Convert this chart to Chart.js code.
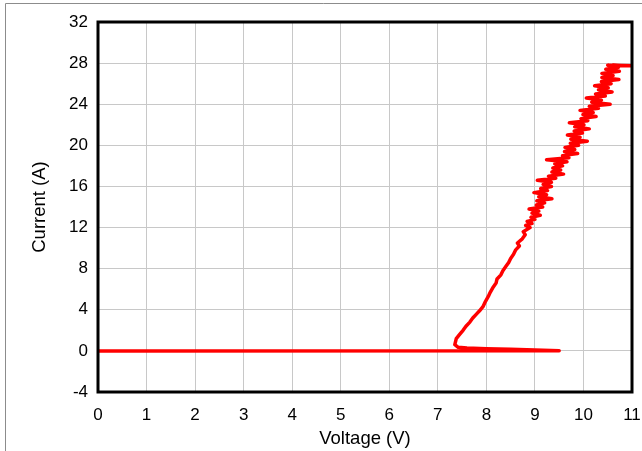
<!DOCTYPE html>
<html>
<head>
<meta charset="utf-8">
<script src="https://cdn.jsdelivr.net/npm/chart.js@4.4.1/dist/chart.umd.min.js"></script>
<style>
  body { margin: 0; background: #fff; }
</style>
</head>
<body>
<canvas id="myChart" width="642" height="451"></canvas>
<script>
// trace: flat sweep out to 9.5 V, back, then the noisy ramp up to ~28 A
var voltage =
       [0, 9.5, 9.0, 8.5, 8.0, 7.6, 7.42,
        7.35, 7.38, 7.45, 7.52, 7.58, 7.66, 7.72, 7.80, 7.86, 7.93,
        7.98, 8.04, 8.08, 8.14, 8.2, 8.22, 8.3, 8.34, 8.4, 8.46,
        8.5, 8.56, 8.6, 8.68, 8.64, 8.74, 8.8, 8.76,
        8.90, 8.81, 8.94, 8.84, 9.00, 8.92, 9.11, 8.94, 9.08, 8.88,
        9.16, 9.03, 9.20, 9.04, 9.35, 9.08, 9.24, 8.98, 9.26, 9.12,
        9.34, 9.17, 9.34, 9.05, 9.43, 9.28, 9.59, 9.35, 9.53, 9.37,
        9.57, 9.41, 9.66, 9.24, 9.70, 9.57, 9.88, 9.61, 9.82, 9.62,
        9.90, 9.73, 10.08, 9.74, 9.93, 9.67, 9.98, 9.81, 10.12, 9.82,
        10.01, 9.71, 10.09, 9.95, 10.26, 9.99, 10.20, 9.93, 10.31, 10.12,
        10.55, 10.17, 10.37, 10.06, 10.45, 10.25, 10.59, 10.31, 10.51, 10.23,
        10.57, 10.37, 10.73, 10.38, 10.61, 10.38, 10.74, 10.46, 10.72,
        10.50, 10.90, 10.60, 10.98];

var current =
       [0, 0.02, 0.08, 0.15, 0.22, 0.28, 0.35,
        0.6, 1.2, 1.6, 2.0, 2.4, 2.8, 3.2, 3.6, 3.9, 4.3,
        4.8, 5.3, 5.7, 6.2, 6.6, 7.0, 7.4, 7.8, 8.2, 8.6,
        9.0, 9.4, 9.8, 10.2, 10.5, 10.9, 11.3, 11.6,
        12.0, 12.2, 12.4, 12.6, 12.8, 13.0, 13.2, 13.4, 13.6, 13.8,
        14.0, 14.2, 14.4, 14.6, 14.8, 15.0, 15.2, 15.4, 15.6, 15.8,
        16.0, 16.2, 16.4, 16.6, 16.8, 17.0, 17.2, 17.4, 17.6, 17.8,
        18.0, 18.2, 18.4, 18.6, 18.8, 19.0, 19.2, 19.4, 19.6, 19.8,
        20.0, 20.2, 20.4, 20.6, 20.8, 21.0, 21.2, 21.4, 21.6, 21.8,
        22.0, 22.2, 22.4, 22.6, 22.8, 23.0, 23.2, 23.4, 23.6, 23.8,
        24.0, 24.2, 24.4, 24.6, 24.8, 25.0, 25.2, 25.4, 25.6, 25.8,
        26.0, 26.2, 26.4, 26.6, 26.8, 27.0, 27.2, 27.4, 27.6,
        27.8, 27.75, 27.8, 27.75];

var xTicks = [0, 11, 1];   // min, max, step
var yTicks = [-4, 32, 4];

var points = voltage.map(function (v, i) { return {x: v, y: current[i]}; });

var frame = {
  id: "frame",
  beforeDraw: function (chart) {
    var c = chart.ctx;
    c.save();
    c.strokeStyle = "#8c8c8c";
    c.lineWidth = 1;
    c.beginPath();
    c.moveTo(5.5, 451);
    c.lineTo(5.5, 3.5);
    c.lineTo(642, 3.5);
    c.stroke();
    c.restore();
  },
  afterDraw: function (chart) {
    var a = chart.chartArea, c = chart.ctx;
    c.save();
    c.strokeStyle = "#000";
    c.lineWidth = 3;
    c.strokeRect(a.left, a.top, a.right - a.left, a.bottom - a.top);
    c.restore();
  }
};

var tickFont = {family: "'Liberation Sans', Arial, sans-serif", size: 17};
var titleFont = {family: "'Liberation Sans', Arial, sans-serif", size: 18.5};

new Chart("myChart", {
  type: "scatter",
  data: {
    datasets: [{
      data: points,
      showLine: true,
      borderColor: "#ff0000",
      backgroundColor: "#ff0000",
      borderWidth: 3.5,
      borderJoinStyle: "round",
      borderCapStyle: "round",
      pointRadius: 0,
      tension: 0
    }]
  },
  options: {
    responsive: false,
    animation: false,
    layout: {padding: {left: 0, right: 0, top: 22, bottom: 0}},
    plugins: {legend: {display: false}, tooltip: {enabled: false}},
    scales: {
      x: {
        min: xTicks[0], max: xTicks[1],
        afterFit: function (s) { s.height = 59; s.paddingLeft = 0; s.paddingRight = 10; },
        grid: {color: "#c8c8c8", drawTicks: false},
        border: {display: false},
        ticks: {stepSize: xTicks[2], color: "#000", font: tickFont, padding: 13, maxRotation: 0},
        title: {display: true, text: "Voltage (V)", color: "#000", font: titleFont, padding: {bottom: 1}}
      },
      y: {
        min: yTicks[0], max: yTicks[1],
        afterFit: function (s) { s.width = 98; },
        grid: {color: "#c8c8c8", drawTicks: false},
        border: {display: false},
        ticks: {stepSize: yTicks[2], color: "#000", font: tickFont, padding: 10},
        title: {display: true, text: "Current (A)", color: "#000", font: titleFont, padding: {top: 29}}
      }
    }
  },
  plugins: [frame]
});
</script>
</body>
</html>
